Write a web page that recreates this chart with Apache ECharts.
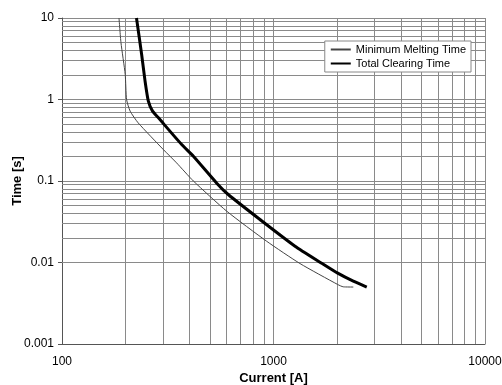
<!DOCTYPE html>
<html>
<head>
<meta charset="utf-8">
<script src="https://cdn.jsdelivr.net/npm/echarts@6/dist/echarts.min.js"></script>
<style>
html,body{margin:0;padding:0;background:#fff;}
#chart{width:502px;height:385px;}
</style>
</head>
<body>
<div id="chart"></div>
<script>
var chart = echarts.init(document.getElementById('chart'));

// Minimum Melting Time (thin line)
var mmCurrent = [186, 190, 199, 202, 210, 229, 301, 348, 418, 601, 929, 1335, 2012, 2138, 2384];
var mmTime    = [10, 5, 2.03, 1.0, 0.72, 0.518, 0.244, 0.167, 0.1, 0.0426, 0.0182, 0.0097, 0.00537, 0.00503, 0.005];
// Total Clearing Time (thick line)
var tcCurrent = [225, 238, 247, 256, 268, 285, 368, 418, 539, 611, 863, 1264, 1690, 2012, 2384, 2760];
var tcTime    = [10, 3.57, 1.68, 0.953, 0.72, 0.6, 0.28, 0.201, 0.094, 0.0683, 0.0337, 0.01585, 0.0098, 0.0074, 0.0059, 0.005];

var xTicks = [100, 1000, 10000];
var yTicks = [0.001, 0.01, 0.1, 1, 10];

function pairs(xs, ys){
    var out = [];
    for (var i = 0; i < xs.length; i++) out.push([xs[i], ys[i]]);
    return out;
}

// minor grid lines at 2..9 x each decade
var gridLines = [];
for (var i = 0; i < xTicks.length - 1; i++) {
    for (var k = 2; k <= 9; k++) gridLines.push({xAxis: k * xTicks[i]});
}
for (var j = 0; j < yTicks.length - 1; j++) {
    for (var m = 2; m <= 9; m++) gridLines.push({yAxis: +(m * yTicks[j]).toPrecision(6)});
}

var fmt = function (v) { return String(+(+v).toPrecision(6)); };

var option = {
    animation: false,
    backgroundColor: '#fff',
    textStyle: {fontFamily: 'Liberation Sans, Arial, sans-serif'},
    grid: {left: 62, right: 17, top: 18, bottom: 41, containLabel: false, outerBoundsMode: 'none'},
    legend: {
        orient: 'vertical',
        right: 31,
        top: 41,
        itemWidth: 20,
        itemHeight: 8,
        itemGap: 3,
        padding: [3, 5, 3, 5],
        backgroundColor: '#fff',
        borderColor: '#888',
        borderWidth: 1,
        itemStyle: {opacity: 0},
        textStyle: {fontSize: 11, color: '#000', fontFamily: 'Liberation Sans, Arial, sans-serif'},
        data: ['Minimum Melting Time', 'Total Clearing Time']
    },
    xAxis: {
        type: 'log',
        logBase: 10,
        min: 100,
        max: 10000,
        name: 'Current [A]',
        nameLocation: 'middle',
        nameGap: 28,
        nameMoveOverlap: false,
        nameTextStyle: {fontSize: 13, fontWeight: 'bold', color: '#000'},
        axisLine: {lineStyle: {color: '#555'}},
        axisTick: {show: false},
        axisLabel: {fontSize: 12, color: '#000', margin: 12, formatter: fmt},
        splitLine: {show: true, lineStyle: {color: '#8a8a8a', width: 1}}
    },
    yAxis: {
        type: 'log',
        logBase: 10,
        min: 0.001,
        max: 10,
        name: 'Time [s]',
        nameLocation: 'middle',
        nameGap: 38,
        nameMoveOverlap: false,
        nameTextStyle: {fontSize: 13, fontWeight: 'bold', color: '#000'},
        axisLine: {show: true, lineStyle: {color: '#555'}},
        axisTick: {show: true, length: 4, lineStyle: {color: '#555'}},
        axisLabel: {fontSize: 12, color: '#000', margin: 8, formatter: fmt},
        splitLine: {show: true, lineStyle: {color: '#8a8a8a', width: 1}}
    },
    series: [
        {
            name: 'Minimum Melting Time',
            type: 'line',
            symbol: 'none',
            smooth: 0.2,
            color: '#444',
            lineStyle: {color: '#444', width: 1},
            data: pairs(mmCurrent, mmTime),
            z: 3,
            markLine: {
                silent: true,
                symbol: 'none',
                label: {show: false},
                lineStyle: {color: '#8a8a8a', width: 1, type: 'solid'},
                z: 1,
                data: gridLines
            }
        },
        {
            name: 'Total Clearing Time',
            type: 'line',
            symbol: 'none',
            smooth: 0.2,
            color: '#000',
            lineStyle: {color: '#000', width: 3},
            data: pairs(tcCurrent, tcTime),
            z: 4
        }
    ]
};
chart.setOption(option);
</script>
</body>
</html>
